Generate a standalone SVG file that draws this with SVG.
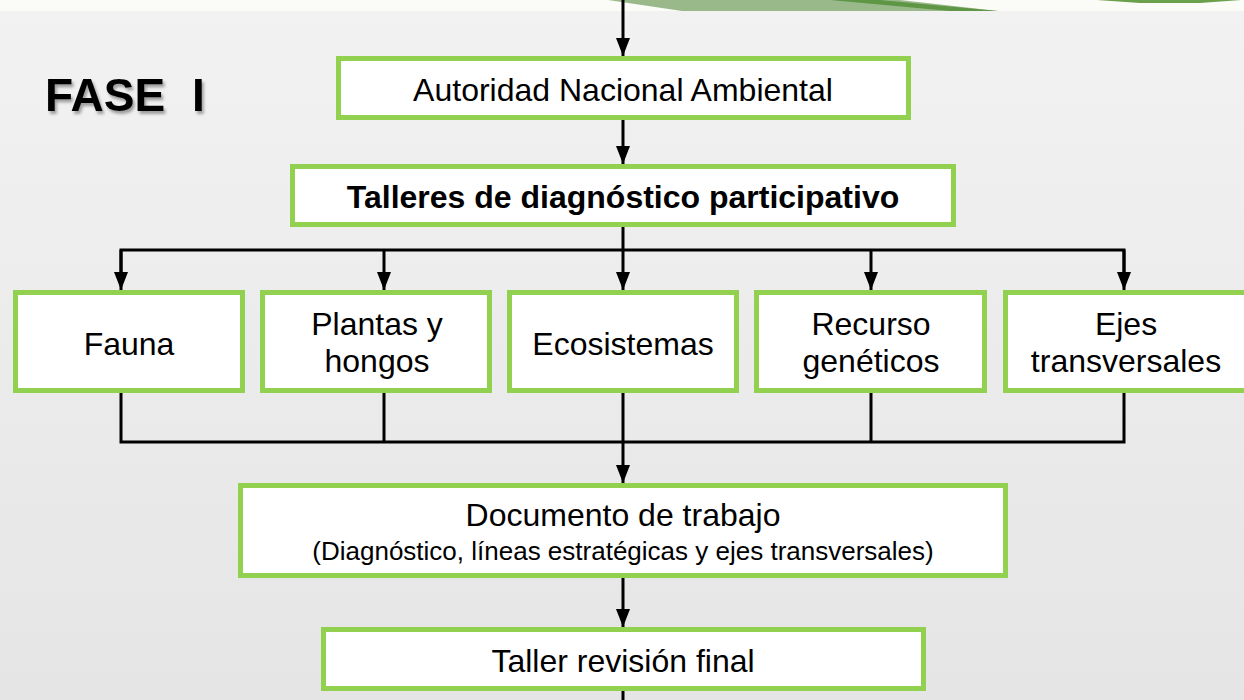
<svg xmlns="http://www.w3.org/2000/svg" width="1244" height="700" viewBox="0 0 1244 700">
<defs>
<linearGradient id="bg" x1="0" y1="0" x2="0" y2="1">
<stop offset="0" stop-color="#f2f2f2"/>
<stop offset="1" stop-color="#e5e5e5"/>
</linearGradient>
<marker id="ah" markerWidth="18" markerHeight="14" refX="18" refY="7" orient="auto" markerUnits="userSpaceOnUse" viewBox="0 0 18 14">
<path d="M0,0 L18,7 L0,14 Z" fill="#000"/>
</marker>
<filter id="sh" x="-10%" y="-20%" width="130%" height="150%">
<feDropShadow dx="2" dy="3" stdDeviation="1.5" flood-color="#000" flood-opacity="0.35"/>
</filter>
<style>
.box{fill:#fff;stroke:#92d050;stroke-width:5}
.t{font-family:"Liberation Sans",Arial,sans-serif;font-size:32px;fill:#000;text-anchor:middle}
.b{font-weight:bold}
.s{font-size:26px}
.c{fill:none;stroke:#000;stroke-width:3}
.a{marker-end:url(#ah)}
</style>
</defs>
<rect x="0" y="0" width="1244" height="700" fill="url(#bg)"/>
<g id="header">
<rect x="0" y="0" width="1244" height="11" fill="#fbfbf7"/>
<path d="M608,0 L900,0 L998,11 L682,11 Z" fill="#9ab98a"/>
<path d="M830,0 L880,0 L998,11 L950,11 Z" fill="#5e9645"/>
<path d="M1097,0 L1241,0 L1200,3 L1140,3 Z" fill="#6a9f4c"/>
</g>
<g id="title">
<text x="45" y="111" style="font-family:'Liberation Sans',Arial,sans-serif;font-size:46px;font-weight:bold" filter="url(#sh)">FASE<tspan x="192">I</tspan></text>
</g>
<g id="connectors">
<line class="c a" x1="623" y1="0" x2="623" y2="56"/>
<line class="c a" x1="623" y1="120" x2="623" y2="164"/>
<line class="c" x1="623" y1="227" x2="623" y2="250"/>
<path class="c" d="M121,272 V250 H1124 V272"/>
<line class="c a" x1="121" y1="250" x2="121" y2="290"/>
<line class="c a" x1="384" y1="250" x2="384" y2="290"/>
<line class="c a" x1="623" y1="250" x2="623" y2="290"/>
<line class="c a" x1="871" y1="250" x2="871" y2="290"/>
<line class="c a" x1="1124" y1="250" x2="1124" y2="290"/>
<path class="c" d="M121,393 V442 H1124 V393"/>
<line class="c" x1="384" y1="393" x2="384" y2="442"/>
<line class="c" x1="871" y1="393" x2="871" y2="442"/>
<line class="c a" x1="623" y1="393" x2="623" y2="483"/>
<line class="c a" x1="623" y1="578" x2="623" y2="627"/>
<line class="c" x1="623" y1="691" x2="623" y2="700"/>
</g>
<g id="autoridad">
<rect class="box" x="338.5" y="58.5" width="570" height="59"/>
<text class="t" x="623" y="101">Autoridad Nacional Ambiental</text>
</g>
<g id="talleres">
<rect class="box" x="292.5" y="166.5" width="661" height="58"/>
<text class="t b" x="623" y="208">Talleres de diagnóstico participativo</text>
</g>
<g id="fauna">
<rect class="box" x="15.5" y="292.5" width="227" height="98"/>
<text class="t" x="129" y="355">Fauna</text>
</g>
<g id="plantas">
<rect class="box" x="262.5" y="292.5" width="227" height="98"/>
<text class="t" x="377" y="335">Plantas y</text>
<text class="t" x="377" y="372">hongos</text>
</g>
<g id="ecosistemas">
<rect class="box" x="509.5" y="292.5" width="227" height="98"/>
<text class="t" x="623" y="355">Ecosistemas</text>
</g>
<g id="recurso">
<rect class="box" x="756.5" y="292.5" width="228" height="98"/>
<text class="t" x="871" y="335">Recurso</text>
<text class="t" x="871" y="372">genéticos</text>
</g>
<g id="ejes">
<rect class="box" x="1005.5" y="292.5" width="245" height="98"/>
<text class="t" x="1126" y="335">Ejes</text>
<text class="t" x="1126" y="372">transversales</text>
</g>
<g id="documento">
<rect class="box" x="240.5" y="485.5" width="765" height="90"/>
<text class="t" x="623" y="526">Documento de trabajo</text>
<text class="t s" x="623" y="560">(Diagnóstico, líneas estratégicas y ejes transversales)</text>
</g>
<g id="taller">
<rect class="box" x="323.5" y="629.5" width="600" height="59"/>
<text class="t" x="623" y="672">Taller revisión final</text>
</g>
</svg>
